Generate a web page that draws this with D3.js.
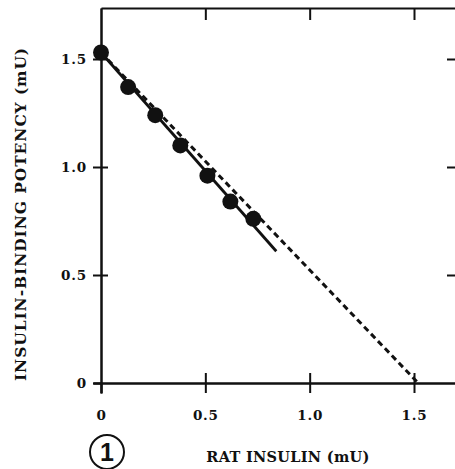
<!DOCTYPE html>
<html><head><meta charset="utf-8">
<script src="https://cdn.jsdelivr.net/npm/d3@7"></script>
<style>
html,body{margin:0;padding:0;background:#fff;overflow:hidden;}
svg text{font-family:"DejaVu Serif",serif;fill:#111;}
</style></head>
<body><svg id="c" width="455" height="469"></svg>
<script>
const ratInsulin = [0, 0.13, 0.26, 0.38, 0.51, 0.62, 0.73];
const bindingPotency = [1.53, 1.37, 1.24, 1.10, 0.96, 0.84, 0.76];
const solidFitX = [0, 0.84];
const solidFitY = [1.53, 0.61];
const dashedX = [0, 1.52];
const dashedY = [1.53, 0];
const xTicks = [0, 0.5, 1.0, 1.5];
const xTickLabels = ["0", "0.5", "1.0", "1.5"];
const yTicks = [0, 0.5, 1.0, 1.5];
const yTickLabels = ["0", "0.5", "1.0", "1.5"];

const svg = d3.select("#c");
const x = d3.scaleLinear().domain([0, 1.5]).range([101, 414]);
const y = d3.scaleLinear().domain([0, 1.5]).range([383, 59]);
const xMax = x.invert(458), yMax = y.invert(8);

function styleAxis(g){
  g.selectAll("path.domain").attr("stroke","#111").attr("stroke-width",2);
  g.selectAll(".tick line").attr("stroke","#111").attr("stroke-width",2);
  g.selectAll(".tick text").style("font-family","DejaVu Serif, serif").style("font-size","13.5px").style("font-weight","bold").attr("fill","#111").style("letter-spacing","0.8px");
}

// bottom axis
const xs = d3.scaleLinear().domain([x.invert(93), xMax]).range([93, 458]);
const bottomAxis = svg.append("g").attr("transform","translate(0,383)")
  .call(d3.axisBottom(xs).tickValues(xTicks).tickSize(10).tickSizeOuter(0).tickPadding(17)
    .tickFormat((d,i)=>xTickLabels[i]));
styleAxis(bottomAxis);
const bottomUp = svg.append("g").attr("transform","translate(0,383)")
  .call(d3.axisTop(xs).tickValues(xTicks.slice(1)).tickSize(10).tickSizeOuter(0).tickFormat(""));
styleAxis(bottomUp);

// left axis
const ys = d3.scaleLinear().domain([y.invert(393), yMax]).range([393, 8]);
const leftAxis = svg.append("g").attr("transform","translate(101,0)")
  .call(d3.axisLeft(ys).tickValues(yTicks).tickSize(8).tickSizeOuter(0).tickPadding(6)
    .tickFormat((d,i)=>yTickLabels[i]));
styleAxis(leftAxis);
const leftIn = svg.append("g").attr("transform","translate(101,0)")
  .call(d3.axisRight(ys).tickValues(yTicks.slice(1)).tickSize(7).tickSizeOuter(0).tickFormat(""));
styleAxis(leftIn);

// top frame
const topFrame = svg.append("g").attr("transform","translate(0,8)")
  .call(d3.axisBottom(d3.scaleLinear().domain([0,xMax]).range([101,458])).tickValues(xTicks.slice(1)).tickSize(12).tickSizeOuter(0).tickFormat(""));
styleAxis(topFrame);

// right frame (just outside window)
const rightFrame = svg.append("g").attr("transform","translate(459,0)")
  .call(d3.axisLeft(d3.scaleLinear().domain([0,yMax]).range([383,8])).tickValues(yTicks.slice(1)).tickSize(12).tickSizeOuter(0).tickFormat(""));
styleAxis(rightFrame);

// dashed line
svg.append("path")
  .datum(dashedX.map((d,i)=>[d,dashedY[i]]))
  .attr("d", d3.line().x(d=>x(d[0])).y(d=>y(d[1])))
  .attr("fill","none").attr("stroke","#111").attr("stroke-width",3)
  .attr("stroke-dasharray","6,4");

// solid fit
svg.append("path")
  .datum(solidFitX.map((d,i)=>[d,solidFitY[i]]))
  .attr("d", d3.line().x(d=>x(d[0])).y(d=>y(d[1])))
  .attr("fill","none").attr("stroke","#111").attr("stroke-width",2.8);

// points
svg.selectAll("circle.pt").data(ratInsulin).enter().append("circle")
  .attr("class","pt").attr("cx",d=>x(d)).attr("cy",(d,i)=>y(bindingPotency[i]))
  .attr("r",8).attr("fill","#111");

// axis titles
svg.append("text").attr("x",288).attr("y",462).attr("text-anchor","middle")
  .style("font-size","14.5px").style("font-weight","bold").style("letter-spacing","0.3px")
  .text("RAT INSULIN (mU)");
svg.append("text").attr("transform","translate(26,214) rotate(-90)").attr("text-anchor","middle")
  .style("font-size","15.5px").style("font-weight","bold").style("letter-spacing","0.9px")
  .text("INSULIN-BINDING POTENCY (mU)");

// panel number
svg.append("circle").attr("cx",107).attr("cy",452).attr("r",17)
  .attr("fill","none").attr("stroke","#111").attr("stroke-width",2);
svg.append("text").attr("x",107).attr("y",461).attr("text-anchor","middle")
  .style("font-family","Liberation Sans, sans-serif").style("font-size","25px").style("font-weight","bold").text("1");
</script></body></html>
